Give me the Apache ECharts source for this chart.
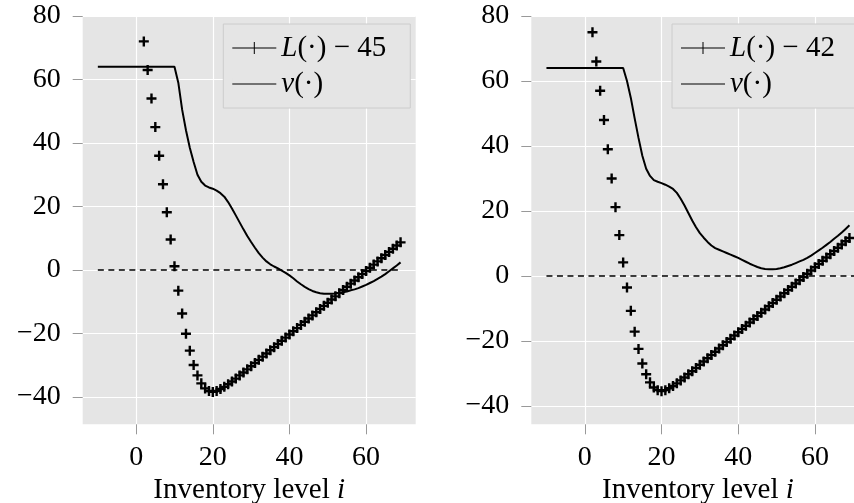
<!DOCTYPE html>
<html>
<head>
<meta charset="utf-8">
<script src="https://cdn.jsdelivr.net/npm/echarts@6/dist/echarts.min.js"></script>
<style>
  html, body { margin: 0; padding: 0; background: #fff; }
  #chart { width: 854px; height: 503px; }
</style>
</head>
<body>
<div id="chart"></div>
<script>
// inventory levels where L(.) was evaluated
var lossLevels = [2, 3, 4, 5, 6, 7, 8, 9, 10, 11, 12, 13, 14, 15, 16, 17, 18, 19, 20,
  21, 22, 23, 24, 25, 26, 27, 28, 29, 30, 31, 32, 33, 34, 35, 36, 37, 38, 39, 40,
  41, 42, 43, 44, 45, 46, 47, 48, 49, 50, 51, 52, 53, 54, 55, 56, 57, 58, 59, 60,
  61, 62, 63, 64, 65, 66, 67, 68, 69]
// L(.) - 45 (left panel)
var lossLeft = [72, 63, 54, 45, 36, 27, 18.2, 9.6, 1.2, -6.5, -13.7, -20.1, -25.4, -29.9, -33.2, -35.7, -37.3, -38.1, -38.4,
  -38.1, -37.5, -36.8, -36.0, -35.1, -34.2, -33.2, -32.3, -31.3, -30.3,
  -29.3, -28.3, -27.3, -26.3, -25.3, -24.3, -23.3, -22.3, -21.3, -20.3,
  -19.3, -18.3, -17.3, -16.3, -15.3, -14.3, -13.3, -12.3, -11.3, -10.3,
  -9.3, -8.3, -7.3, -6.3, -5.3, -4.3, -3.3, -2.3, -1.3, -0.3,
  0.7, 1.7, 2.7, 3.7, 4.7, 5.7, 6.7, 7.7, 8.7]
// L(.) - 42 (right panel)
var lossRight = [75, 66, 57, 48, 39, 30, 21.2, 12.6, 4.2, -3.5, -10.7, -17.1, -22.4, -26.9, -30.2, -32.7, -34.3, -35.1, -35.4,
  -35.1, -34.5, -33.8, -33.0, -32.1, -31.2, -30.2, -29.3, -28.3, -27.3,
  -26.3, -25.3, -24.3, -23.3, -22.3, -21.3, -20.3, -19.3, -18.3, -17.3,
  -16.3, -15.3, -14.3, -13.3, -12.3, -11.3, -10.3, -9.3, -8.3, -7.3,
  -6.3, -5.3, -4.3, -3.3, -2.3, -1.3, -0.3, 0.7, 1.7, 2.7,
  3.7, 4.7, 5.7, 6.7, 7.7, 8.7, 9.7, 10.7, 11.7]

// inventory levels for v(.)
var valueLevels = [-10, 10, 11, 12, 13, 14, 15, 16, 17, 18, 19, 20,
  21, 22, 23, 24, 25, 26, 27, 28, 29, 30, 31, 32, 33, 34, 35, 36, 37, 38, 39, 40,
  41, 42, 43, 44, 45, 46, 47, 48, 49, 50, 51, 52, 53, 54, 55, 56, 57, 58, 59, 60,
  61, 62, 63, 64, 65, 66, 67, 68, 69]
var valueLeft = [64, 64, 59, 50.5, 44, 38.5, 34, 30, 27.8, 26.6, 26.0, 25.6,
  25.0, 24.2, 23.1, 21.4, 19.4, 17.2, 15.0, 12.8, 10.7, 8.8,
  7.0, 5.3, 3.9, 2.7, 1.8, 1.1, 0.5, -0.2, -0.9, -1.7,
  -2.6, -3.6, -4.5, -5.3, -6.0, -6.6, -7.0, -7.3, -7.5, -7.5,
  -7.5, -7.4, -7.2, -7.0, -6.8, -6.4, -6.1, -5.7, -5.2, -4.7,
  -4.1, -3.5, -2.8, -2.1, -1.3, -0.4, 0.5, 1.4, 2.4]
var valueRight = [64, 64, 60, 54.8, 48.5, 42.5, 37, 33, 30.8, 29.5, 29, 28.6,
  28.1, 27.5, 26.8, 25.6, 23.8, 21.7, 19.4, 17.1, 15.0, 13.2,
  11.8, 10.5, 9.4, 8.6, 8.1, 7.6, 7.1, 6.6, 6.1, 5.6,
  5.0, 4.4, 3.8, 3.3, 2.8, 2.4, 2.2, 2.1, 2.1, 2.2,
  2.4, 2.7, 3.1, 3.5, 4.0, 4.5, 5.0, 5.6, 6.3, 7.1,
  7.9, 8.7, 9.6, 10.5, 11.5, 12.4, 13.4, 14.5, 15.6]

// zero reference lines
var zeroLeftX = [-10, 69]
var zeroRightX = [-10, 72]

var xTicks = [0, 20, 40, 60]
var yTicks = [-40, -20, 0, 20, 40, 60, 80]

var FONT = 'Liberation Serif'
var PLUS = 'path://M3.8,0H6.2V3.8H10V6.2H6.2V10H3.8V6.2H0V3.8H3.8Z'
var ICON_PLUS = 'path://M0,5.5H44V6.5H0Z M21.5,0H22.5V12H21.5Z'
var ICON_LINE = 'path://M0,0H0.001V12H0Z M0,5.5H44V6.5H0Z'

function pairs(xs, ys) {
  var out = []
  for (var k = 0; k < xs.length; k++) out.push([xs[k], ys[k]])
  return out
}

function minusSign(v) {
  return String(v).replace('-', '\u2212')
}

function xAxisFor(idx) {
  return {
    gridIndex: idx,
    type: 'value',
    min: -13.95,
    max: 72.95,
    name: 'Inventory level {i|i}',
    nameLocation: 'middle',
    nameGap: 47,
    nameTextStyle: {
      fontFamily: FONT, fontSize: 29, color: '#000',
      rich: { i: { fontFamily: FONT, fontSize: 29, fontStyle: 'italic', color: '#000' } },
    },
    axisLine: { show: false, onZero: false },
    axisTick: { show: true, length: 10, customValues: xTicks, lineStyle: { color: '#999', width: 1 } },
    axisLabel: { customValues: xTicks, margin: 19, fontFamily: FONT, fontSize: 28, color: '#000', formatter: minusSign },
    splitLine: { show: true, lineStyle: { color: '#fff', width: 1.2 } },
  }
}

function yAxisFor(idx, min) {
  return {
    gridIndex: idx,
    type: 'value',
    min: min,
    max: 80,
    axisLine: { show: false, onZero: false },
    axisTick: { show: true, length: 10, customValues: yTicks, lineStyle: { color: '#999', width: 1 } },
    axisLabel: { customValues: yTicks, margin: 22, fontFamily: FONT, fontSize: 28, color: '#000', formatter: minusSign },
    splitLine: { show: true, lineStyle: { color: '#fff', width: 1.2 } },
  }
}

function legendFor(left, lossName) {
  return {
    orient: 'vertical',
    left: left,
    top: 24,
    padding: [6, 24, 6, 9],
    itemGap: 0,
    itemWidth: 44,
    itemHeight: 12,
    backgroundColor: '#e5e5e5',
    borderColor: '#cccccc',
    borderWidth: 1,
    selectedMode: false,
    itemStyle: { color: '#000', borderWidth: 0 },
    data: [
      { name: lossName, icon: ICON_PLUS },
      { name: 'v(·)', icon: ICON_LINE },
    ],
    formatter: function (name) {
      return '{i|' + name.charAt(0) + '}' + name.slice(1)
    },
    textStyle: {
      fontFamily: FONT, fontSize: 29, color: '#000', lineHeight: 36,
      rich: { i: { fontFamily: FONT, fontSize: 29, fontStyle: 'italic', color: '#000', lineHeight: 36 } },
    },
  }
}

function lossSeries(idx, name, ys) {
  return {
    name: name,
    type: 'scatter',
    xAxisIndex: idx,
    yAxisIndex: idx,
    data: pairs(lossLevels, ys),
    symbol: PLUS,
    symbolSize: 10,
    itemStyle: { color: '#000', opacity: 1 },
    z: 4,
  }
}

function valueSeries(idx, ys) {
  return {
    name: 'v(·)',
    type: 'line',
    xAxisIndex: idx,
    yAxisIndex: idx,
    data: pairs(valueLevels, ys),
    symbol: 'none',
    lineStyle: { color: '#000', width: 2 },
    itemStyle: { color: '#000' },
    z: 3,
  }
}

function zeroSeries(idx, xs) {
  return {
    type: 'line',
    xAxisIndex: idx,
    yAxisIndex: idx,
    data: pairs(xs, [0, 0]),
    symbol: 'none',
    silent: true,
    lineStyle: { color: '#000', width: 1.4, type: [6, 4.5] },
    z: 2,
  }
}

var chart = echarts.init(document.getElementById('chart'), null, { renderer: 'canvas' })

var option = {
  animation: false,
  backgroundColor: '#fff',
  textStyle: { fontFamily: FONT },
  grid: [
    { left: 82.7, top: 16, width: 333, height: 408.3, show: true, backgroundColor: '#e5e5e5', borderWidth: 0,
      containLabel: false, outerBoundsMode: 'none' },
    { left: 531.3, top: 16, width: 333.3, height: 408.3, show: true, backgroundColor: '#e5e5e5', borderWidth: 0,
      containLabel: false, outerBoundsMode: 'none' },
  ],
  legend: [legendFor(223.3, 'L(·) − 45'), legendFor(672, 'L(·) − 42')],
  xAxis: [xAxisFor(0), xAxisFor(1)],
  yAxis: [yAxisFor(0, -48.6), yAxisFor(1, -45.6)],
  series: [
    zeroSeries(0, zeroLeftX),
    valueSeries(0, valueLeft),
    lossSeries(0, 'L(·) − 45', lossLeft),
    zeroSeries(1, zeroRightX),
    valueSeries(1, valueRight),
    lossSeries(1, 'L(·) − 42', lossRight),
  ],
}

window.onload = function () {
  chart.setOption(option)
}
</script>
</body>
</html>
